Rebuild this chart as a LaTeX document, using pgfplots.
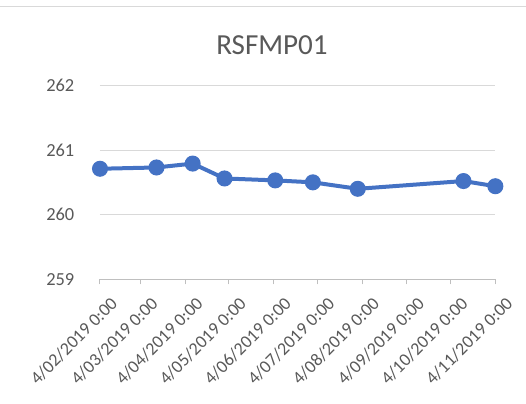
\documentclass[border=0pt]{standalone}
\usepackage{pgfplots}
\pgfplotsset{compat=1.18}
\usepackage{fontspec}
\setmainfont{Carlito}
\definecolor{exblue}{RGB}{68,114,196}
\definecolor{txtgray}{RGB}{89,89,89}
\definecolor{gridgray}{RGB}{217,217,217}
\definecolor{axgray}{RGB}{191,191,191}
\begin{document}
\begin{tikzpicture}
\path[use as bounding box] (0pt,0pt) rectangle (394.5pt,-303pt);
\draw[gridgray,line width=0.75pt] (0pt,-4.5pt) -- (394.5pt,-4.5pt);
\node[txtgray,font=\fontsize{21.8pt}{24pt}\selectfont] at (204pt,-33.75pt) {RSFMP01};
\begin{axis}[
  at={(75pt,-209.5pt)}, anchor=origin,
  scale only axis, width=296.5pt, height=145.5pt,
  xmin=0, xmax=273, ymin=259, ymax=262,
  ytick={259,260,261,262},
  xtick={0,28,59,89,120,150,181,212,242,273},
  xticklabels={4/02/2019 0:00,4/03/2019 0:00,4/04/2019 0:00,4/05/2019 0:00,4/06/2019 0:00,4/07/2019 0:00,4/08/2019 0:00,4/09/2019 0:00,4/10/2019 0:00,4/11/2019 0:00},
  axis x line=bottom, axis y line=left,
  x axis line style={-, draw=axgray, line width=0.75pt},
  y axis line style={draw=none},
  ymajorgrids, grid style={gridgray, line width=0.75pt},
  xtick style={draw=axgray, line width=0.75pt},
  ytick style={draw=none},
  tick align=outside, major tick length=3.75pt,
  xticklabel style={rotate=45, anchor=north east, inner sep=0pt, font=\fontsize{13.5pt}{15pt}\selectfont, text=txtgray, xshift=-1pt, yshift=-11pt},
  yticklabel style={font=\fontsize{13.8pt}{15pt}\selectfont, text=txtgray, xshift=-12pt},
  /pgf/number format/assume math mode=true,
  clip=false,
]
\addplot[exblue, line width=3pt, mark=*, mark size=4.5pt, mark options={fill=exblue, draw=exblue}]
  coordinates {(0,260.71) (39,260.73) (64,260.79) (86,260.56) (121,260.53) (147,260.50) (178,260.40) (251,260.52) (273,260.44)};
\end{axis}
\end{tikzpicture}
\end{document}
